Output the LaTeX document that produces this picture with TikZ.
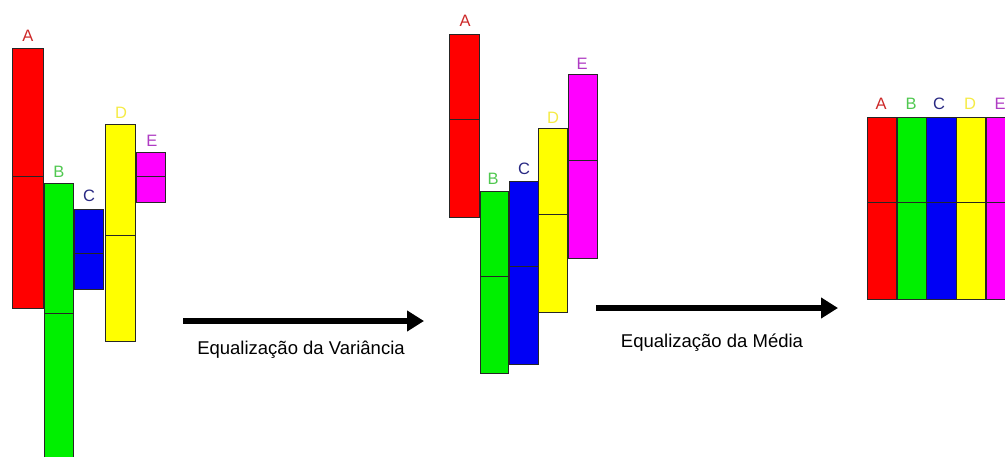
\documentclass[tikz,border=0pt]{standalone}
\usepackage{fontspec}
\setmainfont{Liberation Sans}
\usepackage{tikz}
\usetikzlibrary{positioning, arrows.meta}

\definecolor{barRed}{RGB}{255,0,0}
\definecolor{barGreen}{RGB}{0,240,0}
\definecolor{barBlue}{RGB}{0,0,245}
\definecolor{barYellow}{RGB}{255,255,0}
\definecolor{barMagenta}{RGB}{255,0,255}
\definecolor{tagRed}{RGB}{205,40,40}
\definecolor{tagGreen}{RGB}{80,200,80}
\definecolor{tagBlue}{RGB}{40,40,130}
\definecolor{tagYellow}{RGB}{245,235,70}
\definecolor{tagMagenta}{RGB}{175,60,195}

\begin{document}
\begin{tikzpicture}[
		x=1pt, y=-1pt,
		bar/.style={draw=black!85, line width=1pt},
		tag/.style={font=\fontsize{16.5}{16.5}\selectfont, inner sep=0pt},
		caption/.style={font=\fontsize{18.5}{20}\selectfont, inner sep=0pt, anchor=base},
		arrow/.style={-{Triangle[length=17pt, width=20pt]}, line width=5.5pt}
	]
		\useasboundingbox (0,0) rectangle (1005,456);
		\clip (0,0) rectangle (1005,456);
		
		% antes
		\draw[bar, fill=barRed] (12,48) rectangle (43,308) (12,176) -- (43,176);
		\draw[bar, fill=barGreen] (44,183) rectangle (73,470) (44,313) -- (73,313);
		\draw[bar, fill=barBlue] (74,209) rectangle (103,289) (74,253) -- (103,253);
		\draw[bar, fill=barYellow] (105,124) rectangle (135,341) (105,235) -- (135,235);
		\draw[bar, fill=barMagenta] (136,152) rectangle (165,202) (136,176) -- (165,176);
		\node[tag, text=tagRed] (a1) at (28,36) {A};
		\node[tag, text=tagGreen] (b1) at (59,172) {B};
		\node[tag, text=tagBlue] (c1) at (89,196) {C};
		\node[tag, text=tagYellow] (d1) at (121,113) {D};
		\node[tag, text=tagMagenta] (e1) at (152,141) {E};
		
		% variancia igual
		\draw[bar, fill=barRed] (449,34) rectangle (479,217) (449,119) -- (479,119);
		\draw[bar, fill=barGreen] (480,191) rectangle (508,373) (480,276) -- (508,276);
		\draw[bar, fill=barBlue] (509,181) rectangle (538,364) (509,266) -- (538,266);
		\draw[bar, fill=barYellow] (538,128) rectangle (567,312) (538,214) -- (567,214);
		\draw[bar, fill=barMagenta] (568,74) rectangle (597,258) (568,160) -- (597,160);
		\node[tag, text=tagRed] (a2) at (465,21) {A};
		\node[tag, text=tagGreen] (b2) at (493,179) {B};
		\node[tag, text=tagBlue] (c2) at (524,169) {C};
		\node[tag, text=tagYellow] (d2) at (553,118) {D};
		\node[tag, text=tagMagenta] (e2) at (582,64) {E};
		
		% media igual
		\draw[bar, fill=barRed] (867,117) rectangle (896,299) (867,202) -- (896,202);
		\draw[bar, fill=barGreen] (897,117) rectangle (926,299) (897,202) -- (926,202);
		\draw[bar, fill=barBlue] (926,117) rectangle (956,299) (926,202) -- (956,202);
		\draw[bar, fill=barYellow] (956,117) rectangle (985,299) (956,202) -- (985,202);
		\draw[bar, fill=barMagenta] (986,117) rectangle (1015,299) (986,202) -- (1015,202);
		\node[tag, text=tagRed] (a3) at (881,104) {A};
		\node[tag, text=tagGreen] (b3) at (911,104) {B};
		\node[tag, text=tagBlue] (c3) at (939,104) {C};
		\node[tag, text=tagYellow] (d3) at (970,104) {D};
		\node[tag, text=tagMagenta] (e3) at (1000,104) {E};
		
		% setas
		\coordinate (v0) at (183,321);
		\coordinate (v1) at (424,321);
		\coordinate (m0) at (596,308);
		\coordinate (m1) at (838,308);
		\draw[arrow] (v0) -- (v1);
		\draw[arrow] (m0) -- (m1);
		\node[caption] (varlabel) at (301,354) {Equalização da Variância};
		\node[caption] (medlabel) at (712,347) {Equalização da Média};
	\end{tikzpicture}
\end{document}
